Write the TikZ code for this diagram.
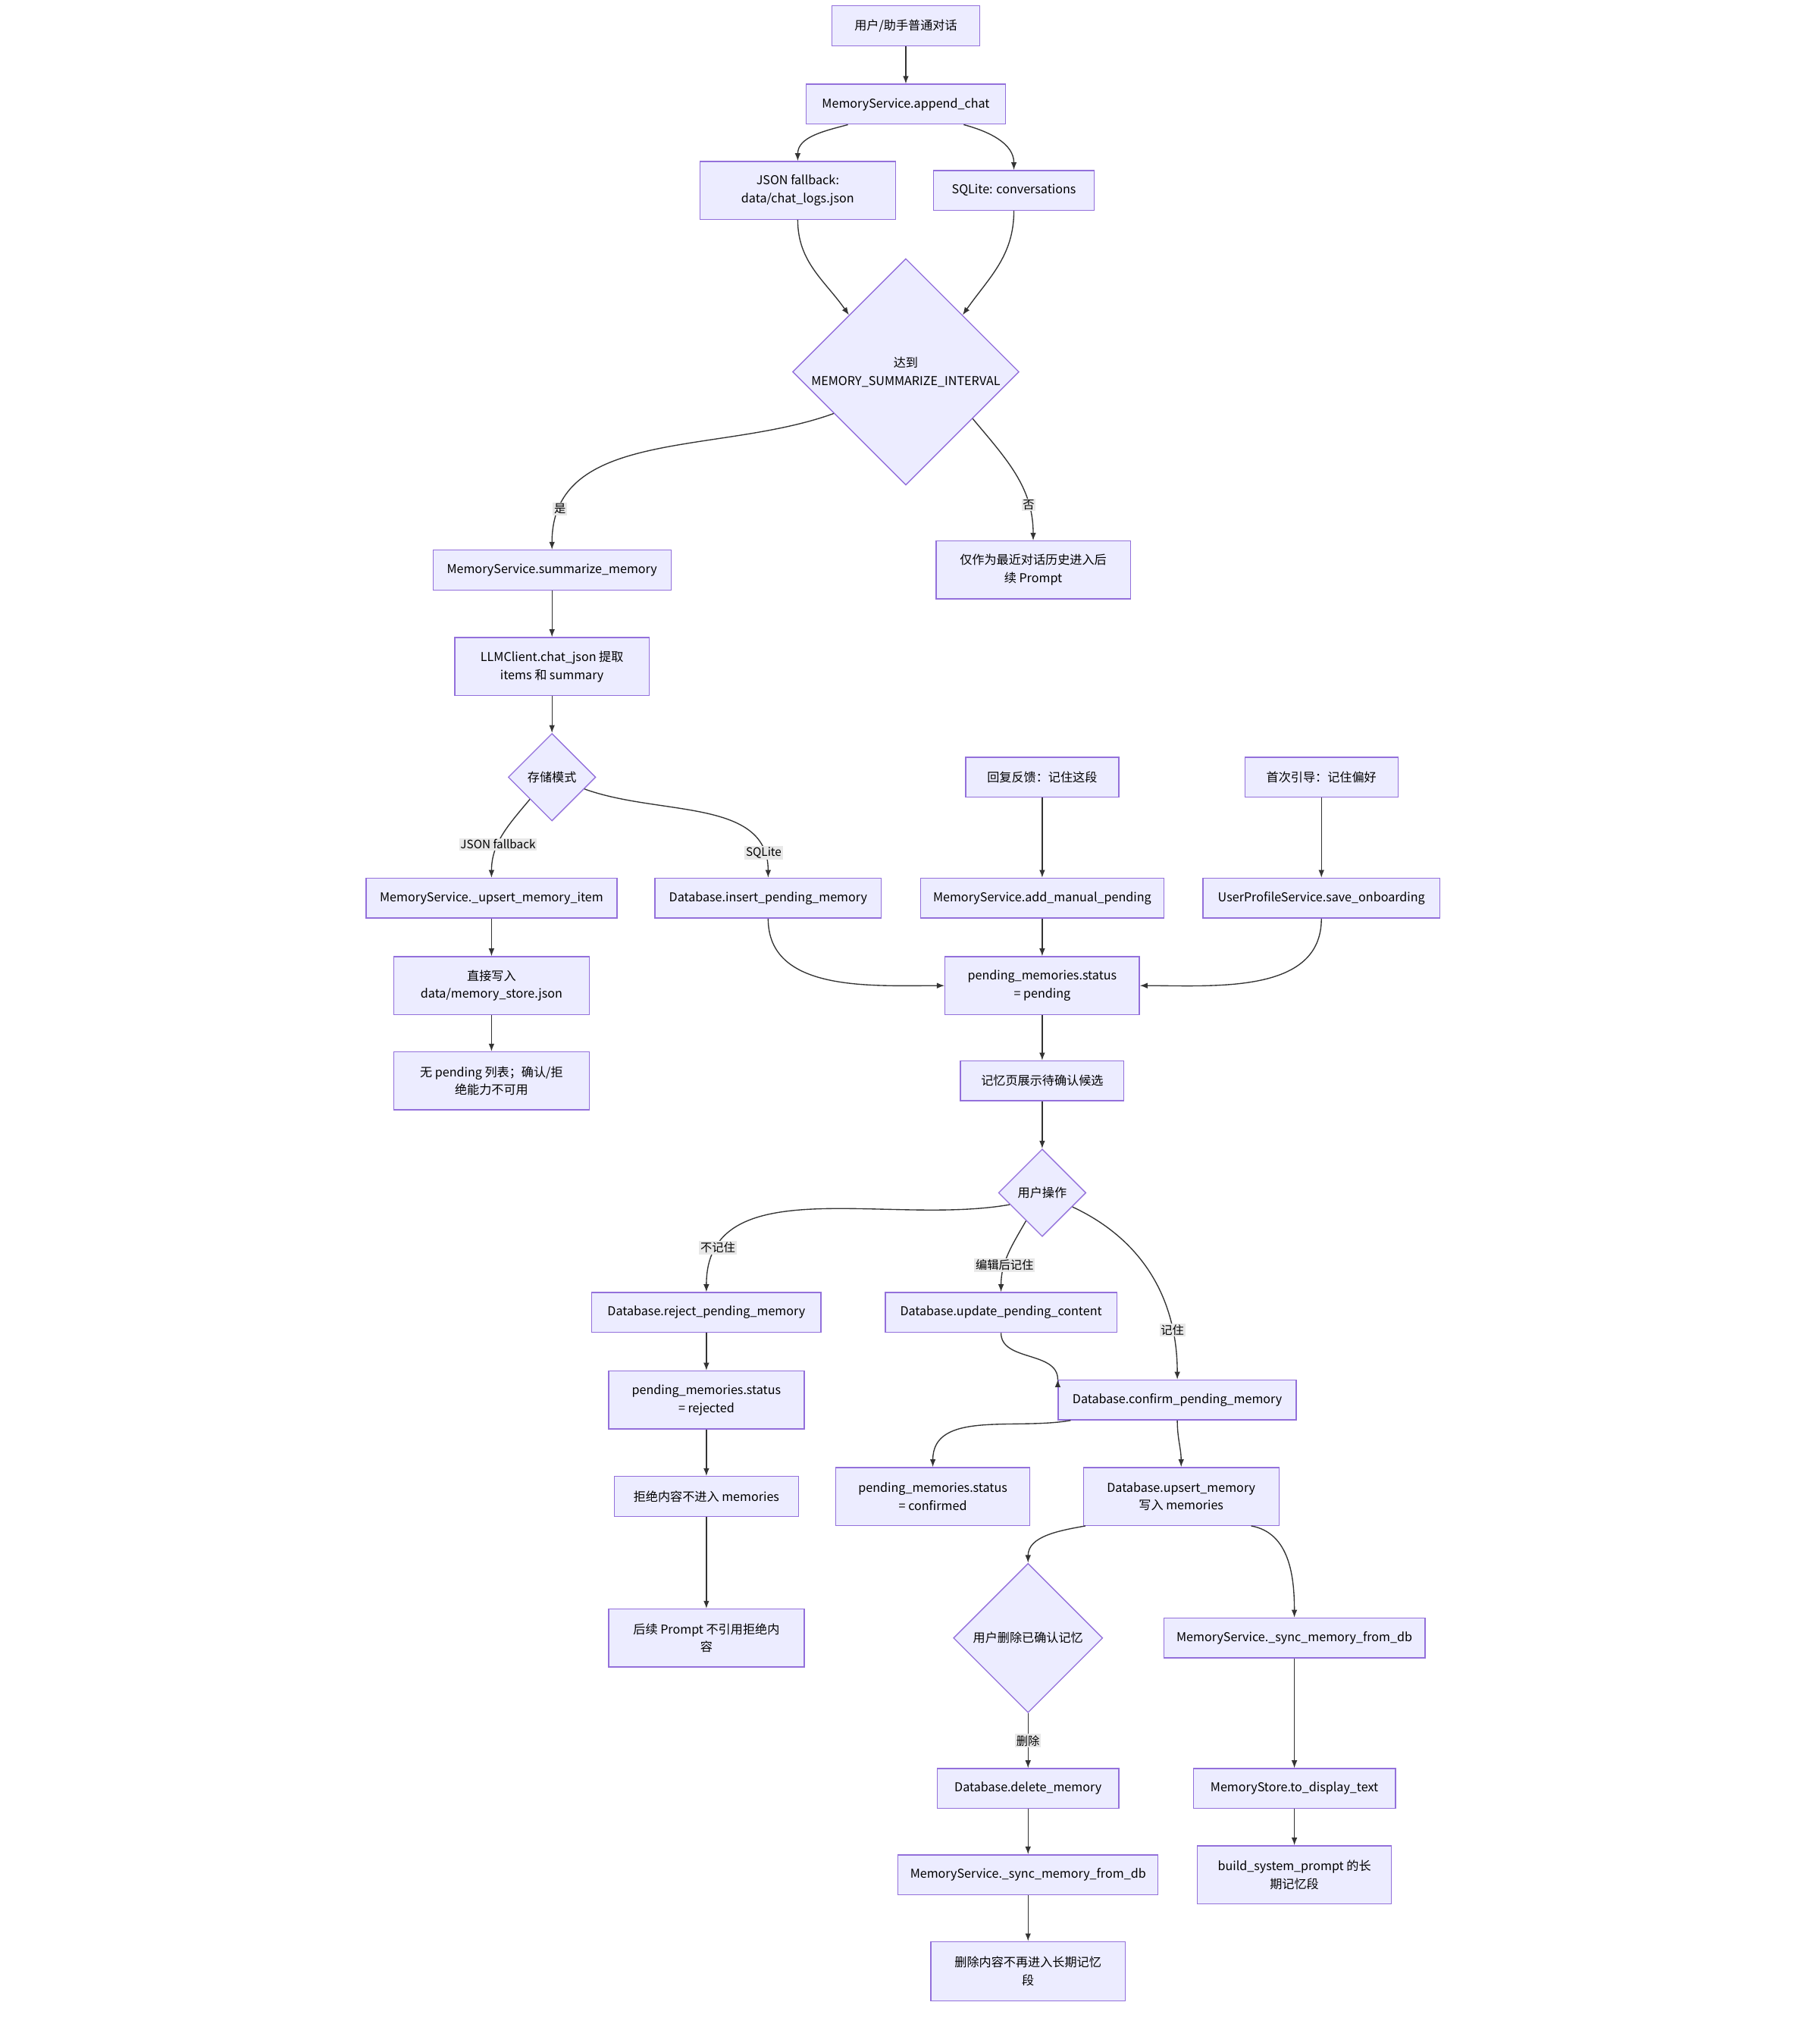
\documentclass[tikz,border=0pt]{standalone}
\usepackage{fontspec}
\setmainfont{Noto Sans CJK SC}
\usetikzlibrary{shapes.geometric,arrows.meta}
\definecolor{boxfill}{HTML}{ECECFF}
\definecolor{boxline}{HTML}{9370DB}
\definecolor{edgeline}{HTML}{333333}
\definecolor{lblfill}{HTML}{E8E8E8}
\tikzset{
  box/.style={rectangle,draw=boxline,fill=boxfill,line width=0.8pt,align=center,inner sep=2pt},
  dec/.style={diamond,draw=boxline,fill=boxfill,line width=0.8pt,align=center,aspect=1,inner sep=0pt},
  flow/.style={->,draw=edgeline,line width=0.8pt},
  lbl/.style={fill=lblfill,inner sep=1pt,font=\fontsize{9}{11}\selectfont}
}
\begin{document}
\begin{tikzpicture}[x=1pt,y=-1pt,>={Latex[length=6pt,width=4.5pt]},font=\fontsize{9.5}{14}\selectfont]
\useasboundingbox (0,0) rectangle (1414,1573);
% top
\node[box,minimum width=115,minimum height=31] (chat) at (704,20) {用户/助手普通对话};
\node[box,minimum width=155,minimum height=31] (append) at (704,81) {MemoryService.append\_chat};
\node[box,minimum width=152,minimum height=45] (jsonlog) at (620,148) {JSON fallback:\\data/chat\_logs.json};
\node[box,minimum width=125,minimum height=31] (sqlconv) at (788,148) {SQLite: conversations};
\node[dec,minimum width=176,minimum height=176] (interval) at (704,289) {达到\\MEMORY\_SUMMARIZE\_INTERVAL};
\node[box,minimum width=185,minimum height=31] (summ) at (429,443) {MemoryService.summarize\_memory};
\node[box,minimum width=151,minimum height=45] (history) at (803,443) {仅作为最近对话历史进入后\\续 Prompt};
\node[box,minimum width=151,minimum height=45] (llm) at (429,518) {LLMClient.chat\_json 提取\\items 和 summary};
\node[dec,minimum width=68,minimum height=68] (mode) at (429,604) {存储模式};
% pending sources
\node[box,minimum width=195,minimum height=31] (upsert) at (382,698) {MemoryService.\_upsert\_memory\_item};
\node[box,minimum width=176,minimum height=31] (insert) at (597,698) {Database.insert\_pending\_memory};
\node[box,minimum width=119,minimum height=31] (reply) at (810,604) {回复反馈：记住这段};
\node[box,minimum width=119,minimum height=31] (onboard) at (1027,604) {首次引导：记住偏好};
\node[box,minimum width=189,minimum height=31] (manual) at (810,698) {MemoryService.add\_manual\_pending};
\node[box,minimum width=184,minimum height=31] (profile) at (1027,698) {UserProfileService.save\_onboarding};
\node[box,minimum width=152,minimum height=45] (direct) at (382,766) {直接写入\\data/memory\_store.json};
\node[box,minimum width=151,minimum height=45] (pending) at (810,766) {pending\_memories.status\\= pending};
\node[box,minimum width=152,minimum height=45] (nolist) at (382,840) {无 pending 列表；确认/拒\\绝能力不可用};
\node[box,minimum width=127,minimum height=31] (page) at (810,840) {记忆页展示待确认候选};
\node[dec,minimum width=68,minimum height=68] (action) at (810,927) {用户操作};
% user actions
\node[box,minimum width=178,minimum height=31] (reject) at (549,1020) {Database.reject\_pending\_memory};
\node[box,minimum width=180,minimum height=31] (update) at (778,1020) {Database.update\_pending\_content};
\node[box,minimum width=185,minimum height=31] (confirm) at (915,1088) {Database.confirm\_pending\_memory};
\node[box,minimum width=152,minimum height=45] (rejected) at (549,1088) {pending\_memories.status\\= rejected};
\node[box,minimum width=143,minimum height=31] (nomem) at (549,1163) {拒绝内容不进入 memories};
\node[box,minimum width=151,minimum height=45] (confirmed) at (725,1163) {pending\_memories.status\\= confirmed};
\node[box,minimum width=152,minimum height=45] (upsertmem) at (918,1163) {Database.upsert\_memory\\写入 memories};
\node[dec,minimum width=116,minimum height=116] (del) at (799,1273) {用户删除已确认记忆};
\node[box,minimum width=203,minimum height=31] (sync) at (1006,1273) {MemoryService.\_sync\_memory\_from\_db};
\node[box,minimum width=152,minimum height=45] (noref) at (549,1273) {后续 Prompt 不引用拒绝内\\容};
\node[box,minimum width=141,minimum height=31] (delmem) at (799,1390) {Database.delete\_memory};
\node[box,minimum width=157,minimum height=31] (display) at (1006,1390) {MemoryStore.to\_display\_text};
\node[box,minimum width=202,minimum height=31] (resync) at (799,1457) {MemoryService.\_sync\_memory\_from\_db};
\node[box,minimum width=151,minimum height=45] (sysprompt) at (1006,1457) {build\_system\_prompt 的长\\期记忆段};
\node[box,minimum width=151,minimum height=46] (gone) at (799,1532) {删除内容不再进入长期记忆\\段};

\draw[flow] (chat) -- (append);
\draw[flow] (append.south) ++(-45,0) to[out=195,in=90] (jsonlog.north);
\draw[flow] (append.south) ++(45,0) to[out=-15,in=90] (sqlconv.north);
\draw[flow] (jsonlog.south) to[out=-90,in=125] (interval.135);
\draw[flow] (sqlconv.south) to[out=-90,in=55] (interval.45);
\draw[flow] (interval.210) to[out=200,in=90] node[lbl,pos=0.87] {是} (summ.north);
\draw[flow] (interval.-35) to[out=-50,in=90] node[lbl,pos=0.75] {否} (history.north);
\draw[flow] (summ) -- (llm);
\draw[flow] (llm) -- (mode);
\draw[flow] (mode.225) to[out=-130,in=90] node[lbl,pos=0.62] {JSON fallback} (upsert.north);
\draw[flow] (mode.-20) to[out=-20,in=90] node[lbl,pos=0.88] {SQLite} (insert.north);
\draw[flow] (reply) -- (manual);
\draw[flow] (onboard) -- (profile);
\draw[flow] (upsert) -- (direct);
\draw[flow] (direct) -- (nolist);
\draw[flow] (insert.south) to[out=-90,in=180] (pending.west);
\draw[flow] (manual) -- (pending);
\draw[flow] (profile.south) to[out=-90,in=0] (pending.east);
\draw[flow] (pending) -- (page);
\draw[flow] (page) -- (action);
\draw[flow] (action.200) to[out=190,in=90] node[lbl,pos=0.85] {不记住} (reject.north);
\draw[flow] (action.240) to[out=-120,in=90] node[lbl,pos=0.65] {编辑后记住} (update.north);
\draw[flow] (action.-25) to[out=-25,in=90] node[lbl,pos=0.78] {记住} (confirm.north);
\draw[flow] (update.south) to[out=-90,in=90] (confirm.north west) ++(0,0);
\draw[flow] (reject) -- (rejected);
\draw[flow] (rejected) -- (nomem);
\draw[flow] (nomem) -- (noref);
\draw[flow] (confirm.south west) ++(10,0) to[out=190,in=90] (confirmed.north);
\draw[flow] (confirm.south) to[out=-90,in=90] (upsertmem.north);
\draw[flow] (upsertmem.south west) ++(2,0) to[out=190,in=90] (del.north);
\draw[flow] (upsertmem.south east) ++(-22,0) to[out=-10,in=90] (sync.north);
\draw[flow] (del) -- node[lbl] {删除} (delmem);
\draw[flow] (sync) -- (display);
\draw[flow] (display) -- (sysprompt);
\draw[flow] (delmem) -- (resync);
\draw[flow] (resync) -- (gone);
\end{tikzpicture}
\end{document}
